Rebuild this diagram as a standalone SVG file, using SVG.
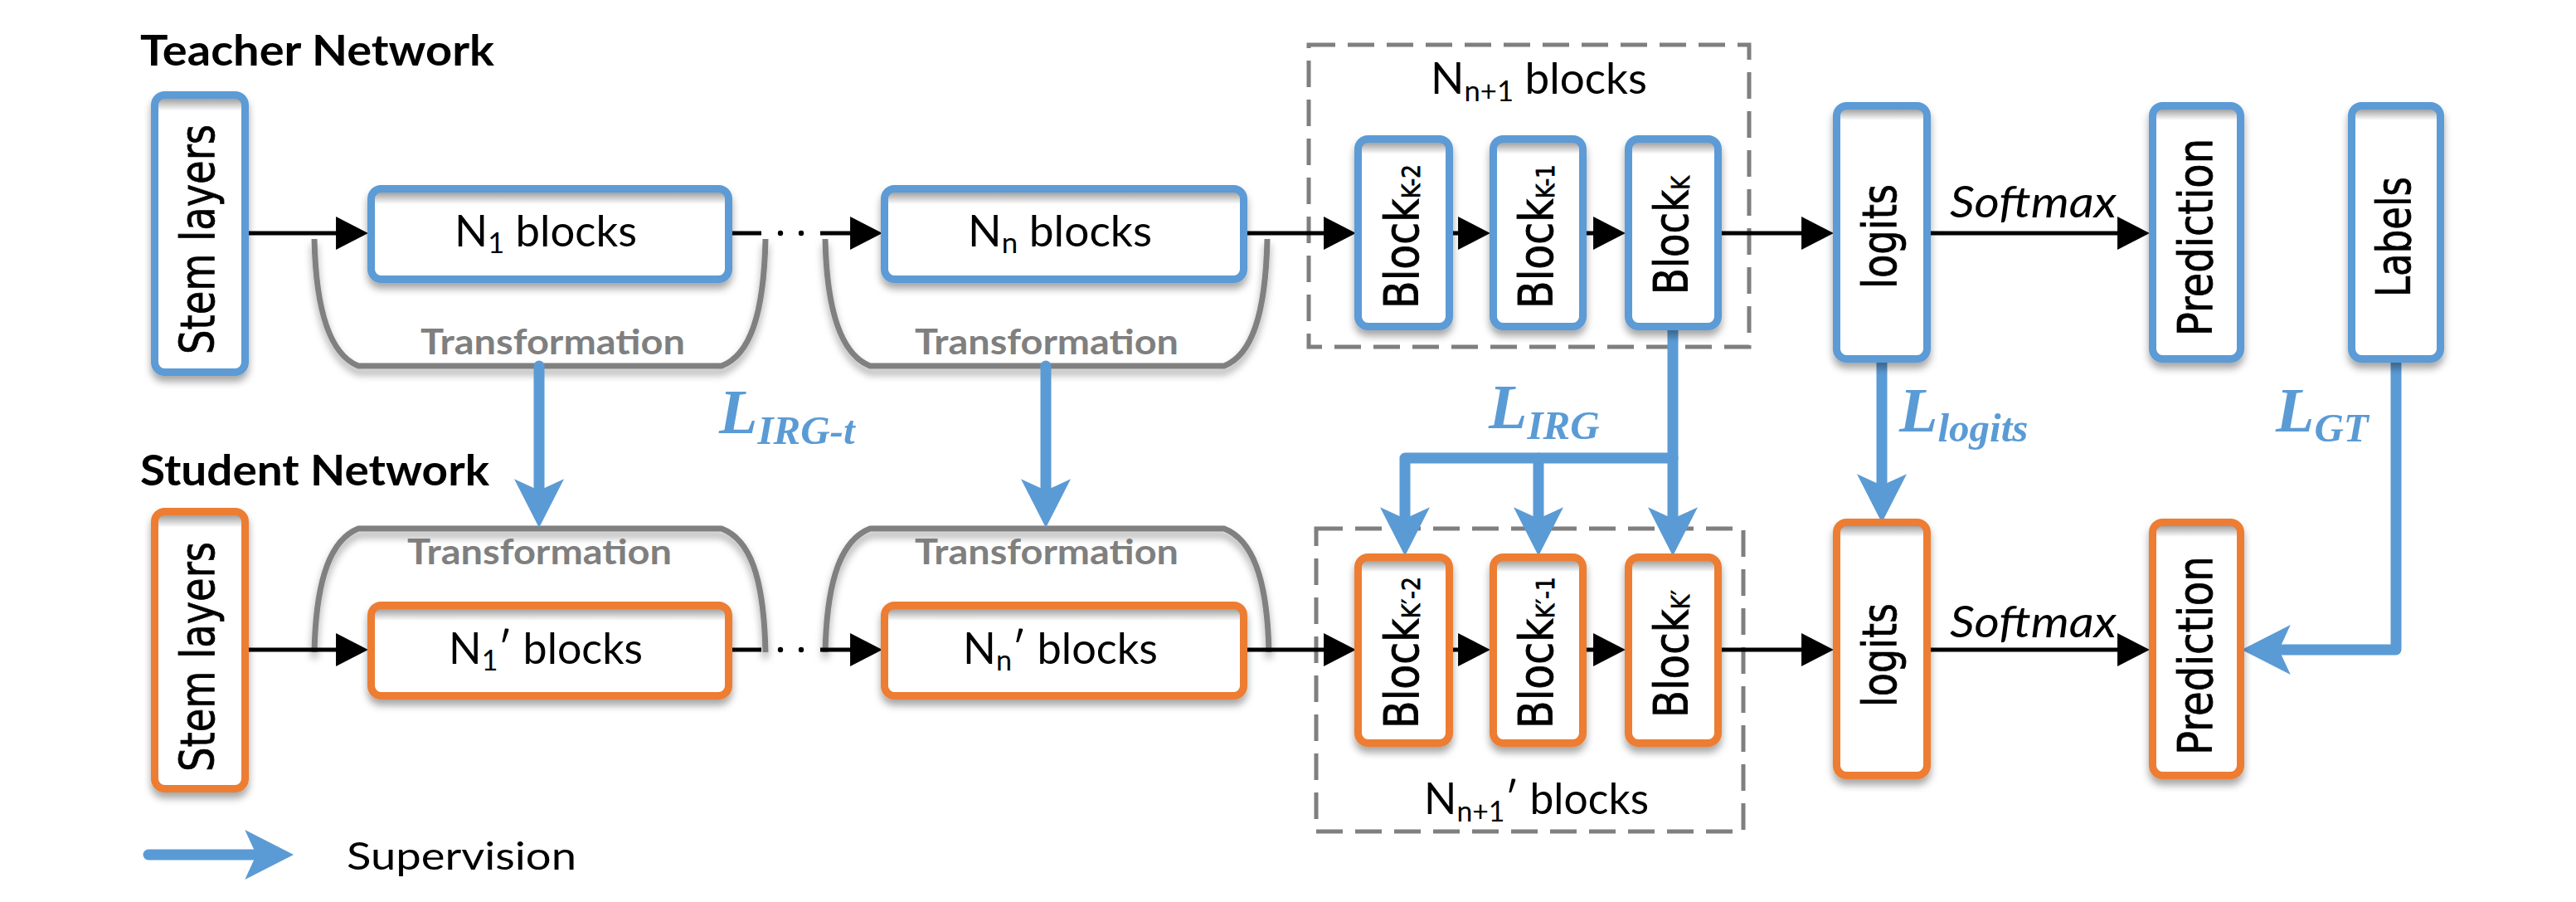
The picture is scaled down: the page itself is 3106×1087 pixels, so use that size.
<svg xmlns="http://www.w3.org/2000/svg" width="3106" height="1087" viewBox="0 0 3106 1087">
<style>
.bg{fill:#ffffff}
.tb{stroke:#5B9BD5;stroke-width:9}
.sb{stroke:#ED7D31;stroke-width:9}
.g1{fill:url(#g1)}
.g2{fill:url(#g2)}
.g3{fill:url(#g3)}
.dash{fill:none;stroke:#7F7F7F;stroke-width:5;stroke-dasharray:32 15}
.br{fill:none;stroke:#808080;stroke-width:7;stroke-linejoin:round}
.ln{fill:none;stroke:#000;stroke-width:5}
.bl{fill:none;stroke:#5B9BD5;stroke-width:13;stroke-linecap:round;stroke-linejoin:round}
.h{font-family:Lato,"Liberation Sans",sans-serif;fill:#000}
.hb{font-family:Lato,"Liberation Sans",sans-serif;font-weight:bold;fill:#000}
.tr{font-family:Lato,"Liberation Sans",sans-serif;font-weight:bold;fill:#7F7F7F;font-size:42px}
.v{font-family:"DejaVu Sans",Verdana,sans-serif;font-size:57px;fill:#000;stroke:#000;stroke-width:0.8}
.L{font-family:"Liberation Serif","Times New Roman",serif;font-weight:bold;font-style:italic;fill:#5B9BD5}
</style>
<defs>
<filter id="sh" x="-20%" y="-20%" width="140%" height="140%">
<feDropShadow dx="0" dy="7" stdDeviation="5" flood-color="#000" flood-opacity="0.35"/>
</filter>
<linearGradient id="g1" x1="0" y1="0" x2="0" y2="1">
<stop offset="0" stop-color="#9a9a9a"/><stop offset="0.05" stop-color="#a8a8a8"/><stop offset="0.17" stop-color="#ffffff"/><stop offset="1" stop-color="#ffffff"/>
</linearGradient>
<linearGradient id="g2" x1="0" y1="0" x2="0" y2="1">
<stop offset="0" stop-color="#9a9a9a"/><stop offset="0.024" stop-color="#a8a8a8"/><stop offset="0.08" stop-color="#ffffff"/><stop offset="1" stop-color="#ffffff"/>
</linearGradient>
<linearGradient id="g3" x1="0" y1="0" x2="0" y2="1">
<stop offset="0" stop-color="#9a9a9a"/><stop offset="0.017" stop-color="#a8a8a8"/><stop offset="0.057" stop-color="#ffffff"/><stop offset="1" stop-color="#ffffff"/>
</linearGradient>
<marker id="ah" markerUnits="userSpaceOnUse" markerWidth="40" markerHeight="40" viewBox="0 0 33 34" refX="28" refY="17" orient="auto">
<path d="M0,0 L33,17 L0,34 z" fill="#000"/>
</marker>
<marker id="bh" markerUnits="userSpaceOnUse" markerWidth="60" markerHeight="60" viewBox="0 -26 51 52" refX="31" refY="0" orient="auto">
<path d="M0,-26 L51,0 L0,26 L12,0 z" fill="#5B9BD5"/>
</marker>
</defs>
<rect class="bg" x="0" y="0" width="3106" height="1087"/>

<text class="hb" x="169" y="79" font-size="52" textLength="427" lengthAdjust="spacingAndGlyphs">Teacher Network</text>
<text class="hb" x="169" y="585" font-size="52" textLength="421" lengthAdjust="spacingAndGlyphs">Student Network</text>

<g id="teacher-transform-1">
<path class="br" filter="url(#sh)" d="M379,288 C381,380 400,428 432,441 H870 C904,428 921,380 923,288"/>
<text class="tr" x="507" y="427" textLength="319" lengthAdjust="spacingAndGlyphs">Transformation</text>
</g>
<g id="teacher-transform-2">
<path class="br" filter="url(#sh)" d="M995,288 C997,380 1016,428 1049,441 H1476 C1509,428 1526,380 1528,288"/>
<text class="tr" x="1103" y="427" textLength="318" lengthAdjust="spacingAndGlyphs">Transformation</text>
</g>
<g id="student-transform-1">
<path class="br" filter="url(#sh)" d="M379,786 C381,694 400,650 432,637 H870 C904,650 921,694 923,786"/>
<text class="tr" x="491" y="680" textLength="319" lengthAdjust="spacingAndGlyphs">Transformation</text>
</g>
<g id="student-transform-2">
<path class="br" filter="url(#sh)" d="M995,786 C997,694 1016,650 1049,637 H1476 C1509,650 1528,694 1530,786"/>
<text class="tr" x="1103" y="680" textLength="318" lengthAdjust="spacingAndGlyphs">Transformation</text>
</g>

<g id="teacher-group-n1">
<rect class="dash" x="1578" y="54" width="531" height="364"/>
<text class="h" x="1725" y="113" font-size="52" textLength="261" lengthAdjust="spacingAndGlyphs">N<tspan font-size="34" dy="9">n+1</tspan><tspan dy="-9"> blocks</tspan></text>
</g>
<g id="student-group-n1">
<rect class="dash" x="1587" y="637" width="515" height="365"/>
<text class="h" x="1717" y="981" font-size="52" textLength="271" lengthAdjust="spacingAndGlyphs">N<tspan font-size="34" dy="9">n+1</tspan><tspan dy="-9">′ blocks</tspan></text>
</g>

<g id="connectors">
<g>
<line class="ln" x1="297" y1="281" x2="438" y2="281" marker-end="url(#ah)"/>
<line class="ln" x1="883" y1="281" x2="918" y2="281"/>
<circle cx="941" cy="281" r="3.2"/><circle cx="966" cy="281" r="3.2"/>
<line class="ln" x1="989" y1="281" x2="1058" y2="281" marker-end="url(#ah)"/>
<line class="ln" x1="1504" y1="281" x2="1629" y2="281" marker-end="url(#ah)"/>
<line class="ln" x1="1752" y1="281" x2="1791" y2="281" marker-end="url(#ah)"/>
<line class="ln" x1="1913" y1="281" x2="1954" y2="281" marker-end="url(#ah)"/>
<line class="ln" x1="2076" y1="281" x2="2205" y2="281" marker-end="url(#ah)"/>
<line class="ln" x1="2328" y1="281" x2="2586" y2="281" marker-end="url(#ah)"/>
<line class="ln" x1="297" y1="783" x2="438" y2="783" marker-end="url(#ah)"/>
<line class="ln" x1="883" y1="783" x2="918" y2="783"/>
<circle cx="941" cy="783" r="3.2"/><circle cx="966" cy="783" r="3.2"/>
<line class="ln" x1="989" y1="783" x2="1058" y2="783" marker-end="url(#ah)"/>
<line class="ln" x1="1504" y1="783" x2="1629" y2="783" marker-end="url(#ah)"/>
<line class="ln" x1="1752" y1="783" x2="1791" y2="783" marker-end="url(#ah)"/>
<line class="ln" x1="1913" y1="783" x2="1954" y2="783" marker-end="url(#ah)"/>
<line class="ln" x1="2076" y1="783" x2="2205" y2="783" marker-end="url(#ah)"/>
<line class="ln" x1="2328" y1="783" x2="2586" y2="783" marker-end="url(#ah)"/>
</g>
<text class="h" x="2351" y="262" font-size="52" font-style="italic" textLength="201" lengthAdjust="spacingAndGlyphs">Softmax</text>
<text class="h" x="2351" y="768" font-size="52" font-style="italic" textLength="201" lengthAdjust="spacingAndGlyphs">Softmax</text>
<g>
<path class="bl" d="M650,441 V613" marker-end="url(#bh)"/>
<path class="bl" d="M1261,441 V613" marker-end="url(#bh)"/>
<path class="bl" d="M2017,398 V647" marker-end="url(#bh)"/>
<path class="bl" d="M2017,552 H1694 V647" marker-end="url(#bh)"/>
<path class="bl" d="M1855,552 V647" marker-end="url(#bh)"/>
<path class="bl" d="M2269,437 V607" marker-end="url(#bh)"/>
<path class="bl" d="M2889,437 V783 H2726" marker-end="url(#bh)"/>
</g>
<text class="L" x="867" y="522" font-size="76">L<tspan font-size="49" dy="13">IRG-t</tspan></text>
<text class="L" x="1795" y="516" font-size="76">L<tspan font-size="49" dy="13">IRG</tspan></text>
<text class="L" x="2290" y="520" font-size="76">L<tspan font-size="49" dy="12">logits</tspan></text>
<text class="L" x="2744" y="520" font-size="76">L<tspan font-size="49" dy="12">GT</tspan></text>
</g>

<g id="teacher-stem">
<rect class="tb g3" filter="url(#sh)" x="186.5" y="114.5" width="109" height="334" rx="12"/>
<text class="v" transform="translate(258,427) rotate(-90)" x="0" y="0" textLength="277" lengthAdjust="spacingAndGlyphs">Stem layers</text>
</g>
<g id="teacher-n1">
<rect class="tb g1" filter="url(#sh)" x="447.5" y="227.5" width="431" height="109" rx="12"/>
<text class="h" x="548" y="297" font-size="52" textLength="220" lengthAdjust="spacingAndGlyphs">N<tspan font-size="34" dy="8">1</tspan><tspan dy="-8"> blocks</tspan></text>
</g>
<g id="teacher-nn">
<rect class="tb g1" filter="url(#sh)" x="1066.5" y="227.5" width="433" height="109" rx="12"/>
<text class="h" x="1167" y="297" font-size="52" textLength="222" lengthAdjust="spacingAndGlyphs">N<tspan font-size="34" dy="8">n</tspan><tspan dy="-8"> blocks</tspan></text>
</g>
<g id="teacher-block-k2">
<rect class="tb g2" filter="url(#sh)" x="1637.5" y="167.5" width="110" height="226" rx="12"/>
<text class="v" transform="translate(1710,372) rotate(-90)" x="0" y="0" textLength="174" lengthAdjust="spacingAndGlyphs">Block<tspan font-size="31" dy="2">K-2</tspan></text>
</g>
<g id="teacher-block-k1">
<rect class="tb g2" filter="url(#sh)" x="1800.5" y="167.5" width="108" height="226" rx="12"/>
<text class="v" transform="translate(1872,372) rotate(-90)" x="0" y="0" textLength="174" lengthAdjust="spacingAndGlyphs">Block<tspan font-size="31" dy="2">K-1</tspan></text>
</g>
<g id="teacher-block-k">
<rect class="tb g2" filter="url(#sh)" x="1963.5" y="167.5" width="108" height="226" rx="12"/>
<text class="v" transform="translate(2035,355) rotate(-90)" x="0" y="0" textLength="143" lengthAdjust="spacingAndGlyphs">Block<tspan font-size="31" dy="2">K</tspan></text>
</g>
<g id="teacher-logits">
<rect class="tb g3" filter="url(#sh)" x="2214.5" y="127.5" width="109" height="305" rx="12"/>
<text class="v" transform="translate(2286,348) rotate(-90)" x="0" y="0" textLength="126" lengthAdjust="spacingAndGlyphs">logits</text>
</g>
<g id="teacher-prediction">
<rect class="tb g3" filter="url(#sh)" x="2595.5" y="127.5" width="106" height="305" rx="12"/>
<text class="v" transform="translate(2667,405) rotate(-90)" x="0" y="0" textLength="238" lengthAdjust="spacingAndGlyphs">Prediction</text>
</g>
<g id="labels">
<rect class="tb g3" filter="url(#sh)" x="2835.5" y="127.5" width="107" height="305" rx="12"/>
<text class="v" transform="translate(2906,358) rotate(-90)" x="0" y="0" textLength="145" lengthAdjust="spacingAndGlyphs">Labels</text>
</g>

<g id="student-stem">
<rect class="sb g3" filter="url(#sh)" x="186.5" y="616.5" width="109" height="334" rx="12"/>
<text class="v" transform="translate(258,930) rotate(-90)" x="0" y="0" textLength="277" lengthAdjust="spacingAndGlyphs">Stem layers</text>
</g>
<g id="student-n1">
<rect class="sb g1" filter="url(#sh)" x="447.5" y="729.5" width="431" height="109" rx="12"/>
<text class="h" x="541" y="800" font-size="52" textLength="234" lengthAdjust="spacingAndGlyphs">N<tspan font-size="34" dy="8">1</tspan><tspan dy="-8">′ blocks</tspan></text>
</g>
<g id="student-nn">
<rect class="sb g1" filter="url(#sh)" x="1066.5" y="729.5" width="433" height="109" rx="12"/>
<text class="h" x="1161" y="800" font-size="52" textLength="235" lengthAdjust="spacingAndGlyphs">N<tspan font-size="34" dy="8">n</tspan><tspan dy="-8">′ blocks</tspan></text>
</g>
<g id="student-block-k2">
<rect class="sb g2" filter="url(#sh)" x="1637.5" y="671.5" width="110" height="224" rx="12"/>
<text class="v" transform="translate(1710,878) rotate(-90)" x="0" y="0" textLength="183" lengthAdjust="spacingAndGlyphs">Block<tspan font-size="31" dy="2">K′-2</tspan></text>
</g>
<g id="student-block-k1">
<rect class="sb g2" filter="url(#sh)" x="1800.5" y="671.5" width="108" height="224" rx="12"/>
<text class="v" transform="translate(1872,878) rotate(-90)" x="0" y="0" textLength="183" lengthAdjust="spacingAndGlyphs">Block<tspan font-size="31" dy="2">K′-1</tspan></text>
</g>
<g id="student-block-k">
<rect class="sb g2" filter="url(#sh)" x="1963.5" y="671.5" width="108" height="224" rx="12"/>
<text class="v" transform="translate(2035,865) rotate(-90)" x="0" y="0" textLength="154" lengthAdjust="spacingAndGlyphs">Block<tspan font-size="31" dy="2">K′</tspan></text>
</g>
<g id="student-logits">
<rect class="sb g3" filter="url(#sh)" x="2214.5" y="629.5" width="109" height="305" rx="12"/>
<text class="v" transform="translate(2286,852) rotate(-90)" x="0" y="0" textLength="125" lengthAdjust="spacingAndGlyphs">logits</text>
</g>
<g id="student-prediction">
<rect class="sb g3" filter="url(#sh)" x="2595.5" y="629.5" width="106" height="305" rx="12"/>
<text class="v" transform="translate(2667,910) rotate(-90)" x="0" y="0" textLength="240" lengthAdjust="spacingAndGlyphs">Prediction</text>
</g>

<g id="legend">
<path class="bl" d="M179,1030 H331" stroke-width="15" marker-end="url(#bh)"/>
<text class="h" x="418" y="1048" font-size="46" textLength="277" lengthAdjust="spacingAndGlyphs">Supervision</text>
</g>
</svg>
